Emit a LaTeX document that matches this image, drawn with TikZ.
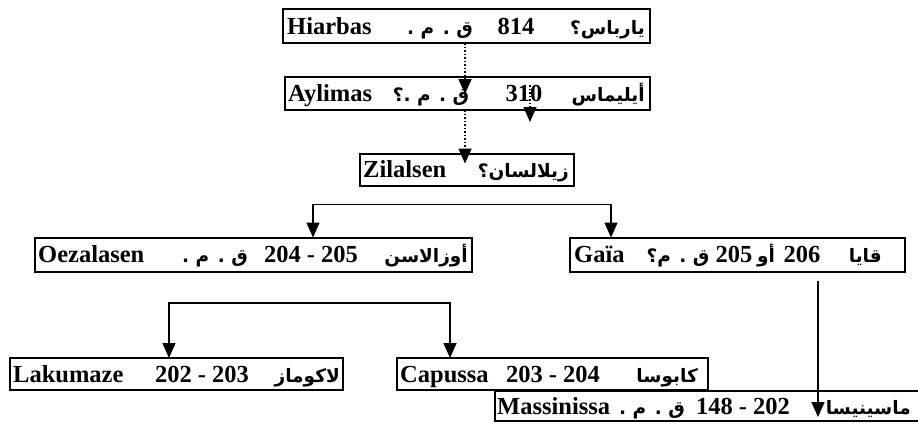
\documentclass[tikz,border=0pt]{standalone}
\usepackage{fontspec}
\setmainfont{Liberation Serif}
\newfontfamily\arabicfont[Script=Arabic]{DejaVu Sans}
\TeXXeTstate=1
\usetikzlibrary{arrows.meta}
\newcommand\artxt[1]{{\arabicfont\bfseries\beginR #1\endR}}
\begin{document}
\begin{tikzpicture}[x=1pt,y=-1pt,
  box/.style={draw, line width=2pt, inner sep=0pt, outer sep=0pt},
  lat/.style={font=\fontsize{24.5}{24.5}\selectfont\bfseries, inner sep=0pt},
  arb/.style={font=\fontsize{18.5}{18.5}\selectfont, inner sep=0pt},
  solidarr/.style={line width=1.6pt, -{Triangle[length=15pt,width=13pt]}},
  bothArr/.style={line width=1.6pt, {Triangle[length=15pt,width=13pt]}-{Triangle[length=15pt,width=13pt]}},
  dotarr/.style={line width=1.6pt, dash pattern=on 1.5pt off 2pt, -{Triangle[length=15pt,width=13pt]}}]
\useasboundingbox (0,0) rectangle (918,423);

% boxes
\node[box, minimum width=367pt, minimum height=34pt] (hiarbas) at (466.5,26) {};
\node[box, minimum width=365pt, minimum height=33pt] (aylimas) at (467.5,93.5) {};
\node[box, minimum width=214pt, minimum height=32pt] (zilalsen) at (467,169.5) {};
\node[box, minimum width=437pt, minimum height=34pt] (oez) at (253.5,254.5) {};
\node[box, minimum width=335pt, minimum height=34pt] (gaia) at (737.5,254.5) {};
\node[box, minimum width=333pt, minimum height=32pt] (lak) at (176.5,374) {};
\node[box, minimum width=311pt, minimum height=32pt] (cap) at (552.5,374) {};
\node[box, minimum width=435pt, minimum height=30pt] (mass) at (712.5,406) {};

% texts: Hiarbas
\node[lat, anchor=base west] (t1a) at (287,34) {Hiarbas};
\node[arb, anchor=base] (t1b) at (440,34) {\artxt{ق . م .}};
\node[lat, anchor=base] (t1c) at (516,34) {814};
\node[arb, anchor=base east] (t1d) at (645,34) {\artxt{يارباس؟}};
% Aylimas
\node[lat, anchor=base west] (t2a) at (288,101.5) {Aylimas};
\node[arb, anchor=base] (t2b) at (431,101.5) {\artxt{ق . م .؟}};
\node[lat, anchor=base] (t2c) at (524,101.5) {310};
\node[arb, anchor=base east] (t2d) at (645,101.5) {\artxt{أيليماس}};
% Zilalsen
\node[lat, anchor=base west] (t3a) at (363,177.5) {Zilalsen};
\node[arb, anchor=base east] (t3b) at (569,177.5) {\artxt{زيلالسان؟}};
% Oezalasen
\node[lat, anchor=base west] (t4a) at (38,262.5) {Oezalasen};
\node[arb, anchor=base] (t4b) at (215,262.5) {\artxt{ق . م .}};
\node[lat, anchor=base] (t4c) at (311,262.5) {204 - 205};
\node[arb, anchor=base east] (t4d) at (468,262.5) {\artxt{أوزالاسن}};
% Gaia
\node[lat, anchor=base west] (t5a) at (574,262.5) {Gaïa};
\node[arb, anchor=base] (t5b) at (678,262.5) {\artxt{ق . م؟}};
\node[lat, anchor=base] (t5c) at (734,262.5) {205};
\node[arb, anchor=base] (t5d) at (766,262.5) {\artxt{أو}};
\node[lat, anchor=base] (t5e) at (802,262.5) {206};
\node[arb, anchor=base east] (t5f) at (882,262.5) {\artxt{قايا}};
% Lakumaze
\node[lat, anchor=base west] (t6a) at (13,382) {Lakumaze};
\node[lat, anchor=base] (t6b) at (202,382) {202 - 203};
\node[arb, anchor=base east] (t6c) at (340,382) {\artxt{لاكوماز}};
% Capussa
\node[lat, anchor=base west] (t7a) at (400,382) {Capussa};
\node[lat, anchor=base] (t7b) at (553,382) {203 - 204};
\node[arb, anchor=base east] (t7c) at (698,382) {\artxt{كابوسا}};
% Massinissa
\node[lat, anchor=base west] (t8a) at (497,414) {Massinissa};
\node[arb, anchor=base] (t8b) at (652,414) {\artxt{ق . م .}};
\node[lat, anchor=base] (t8c) at (743,414) {148 - 202};
\node[arb, anchor=base east] (t8d) at (911,414) {\artxt{ماسينيسا}};

% connectors
\draw[dotarr] ([xshift=-1.5pt]hiarbas.south) -- ([xshift=-2.5pt,yshift=-17pt]aylimas.north);
\draw[dotarr] ([xshift=62.5pt,yshift=-8pt]aylimas.north) -- ([xshift=62.5pt,yshift=-12pt]aylimas.south);
\draw[dotarr] ([xshift=-2.5pt]aylimas.south) -- ([xshift=-2pt,yshift=-10pt]zilalsen.north);
\draw[bothArr] ([xshift=59.5pt]oez.north) -- ++(0,-33) -| ([xshift=-126.5pt]gaia.north);
\draw[bothArr] ([xshift=-7.5pt]lak.north) -- ++(0,-55) -| ([xshift=-102.5pt]cap.north);
\draw[solidarr] ([xshift=80.5pt,yshift=-9pt]gaia.south) -- ([xshift=105.5pt,yshift=-26pt]mass.north);
\end{tikzpicture}
\end{document}
